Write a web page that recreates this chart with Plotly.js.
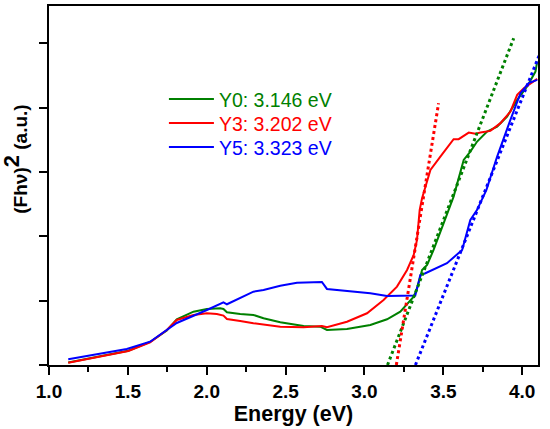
<!DOCTYPE html>
<html>
<head>
<meta charset="utf-8">
<script src="https://cdn.plot.ly/plotly-3.0.1.min.js"></script>
<style>html,body{margin:0;padding:0;background:#fff;}#chart{width:550px;height:429px;}</style>
</head>
<body>
<div id="chart"></div>
<script>
// Energy (eV) and (Fhv)^2 (a.u.) values
const y0Energy = [1.122,1.503,1.641,1.747,1.810,1.916,2.001,2.085,2.106,2.128,2.212,2.296,2.360,2.466,2.614,2.720,2.762,2.889,3.037,3.143,3.227,3.312,3.337,3.365,3.397,3.438,3.502,3.565,3.629,3.671,3.714,3.777,3.841,3.904,3.968,4.031,4.084,4.095];
const y0Values = [0.039,0.221,0.358,0.537,0.711,0.829,0.871,0.882,0.871,0.820,0.793,0.778,0.726,0.664,0.607,0.596,0.544,0.560,0.622,0.711,0.829,1.062,1.218,1.477,1.555,1.788,2.204,2.617,3.188,3.317,3.473,3.628,3.706,3.862,4.121,4.328,4.561,4.717];

const y3Energy = [1.122,1.503,1.641,1.747,1.810,1.916,2.001,2.064,2.106,2.128,2.212,2.296,2.466,2.614,2.730,2.762,2.889,3.016,3.121,3.206,3.270,3.312,3.333,3.350,3.365,3.418,3.481,3.523,3.565,3.597,3.661,3.703,3.735,3.798,3.862,3.925,3.968,4.010,4.052,4.095];
const y3Values = [0.036,0.218,0.353,0.544,0.700,0.778,0.804,0.793,0.767,0.715,0.684,0.649,0.596,0.586,0.607,0.586,0.673,0.804,1.011,1.218,1.477,1.711,1.944,2.411,2.592,3.033,3.240,3.370,3.510,3.510,3.613,3.593,3.613,3.639,3.759,3.939,4.199,4.303,4.381,4.448];

const y5Energy = [1.122,1.493,1.641,1.810,2.001,2.106,2.128,2.212,2.296,2.360,2.466,2.572,2.730,2.762,2.889,3.037,3.143,3.322,3.354,3.386,3.523,3.619,3.671,3.714,3.773,3.841,3.925,3.989,4.041,4.095];
const y5Values = [0.089,0.249,0.362,0.653,0.855,0.975,0.944,1.047,1.140,1.166,1.233,1.280,1.291,1.182,1.156,1.115,1.073,1.081,1.400,1.426,1.582,1.788,2.255,2.411,2.722,3.240,3.810,4.225,4.381,4.432];

// Linear (Tauc) fit lines: [start, end]
const y0FitEnergy = [3.146, 3.946];
const y0FitValues = [0, 5.08];
const y3FitEnergy = [3.202, 3.470];
const y3FitValues = [0, 4.07];
const y5FitEnergy = [3.323, 4.143];
const y5FitValues = [0, 5.03];

const seriesNames = ['Y0: 3.146 eV', 'Y3: 3.202 eV', 'Y5: 3.323 eV'];
const seriesColors = ['#008000', '#ff0000', '#0000ff'];

const xTickVals = [1.0, 1.5, 2.0, 2.5, 3.0, 3.5, 4.0];

const FONT = 'Arial, "Liberation Sans", Helvetica, sans-serif';

const solid = [[y0Energy, y0Values], [y3Energy, y3Values], [y5Energy, y5Values]];
const fits = [[y0FitEnergy, y0FitValues], [y3FitEnergy, y3FitValues], [y5FitEnergy, y5FitValues]];
const legendIds = ['legend', 'legend2', 'legend3'];
const legendY = [0.740, 0.673, 0.606];

const traces = [];
solid.forEach((s, i) => {
  traces.push({
    x: s[0], y: s[1], type: 'scatter', mode: 'lines',
    name: '<span style="color:' + seriesColors[i] + '">' + seriesNames[i] + '</span>',
    legend: legendIds[i],
    line: {color: seriesColors[i], width: 2},
    hoverinfo: 'skip'
  });
});
fits.forEach((s, i) => {
  traces.push({
    x: s[0], y: s[1], type: 'scatter', mode: 'lines',
    showlegend: false,
    line: {color: seriesColors[i], width: 3, dash: 'dot'},
    hoverinfo: 'skip'
  });
});

function legendCfg(y) {
  return {
    x: 0.235, y: y, xanchor: 'left', yanchor: 'middle',
    bgcolor: 'rgba(0,0,0,0)', borderwidth: 0,
    font: {family: FONT, size: 19.5, color: '#000'},
    itemwidth: 45
  };
}

const layout = {
  width: 550, height: 429,
  margin: {l: 49, r: 12, t: 6, b: 64},
  paper_bgcolor: '#ffffff', plot_bgcolor: '#ffffff',
  showlegend: true,
  legend: legendCfg(legendY[0]),
  legend2: legendCfg(legendY[1]),
  legend3: legendCfg(legendY[2]),
  xaxis: {
    range: [1.0, 4.1],
    tickvals: xTickVals, tickformat: '.1f',
    ticks: 'outside', ticklen: 8, tickwidth: 2, tickcolor: '#000',
    minor: {dtick: 0.25, ticks: 'outside', ticklen: 5, tickwidth: 2, tickcolor: '#000'},
    showline: true, linewidth: 2, linecolor: '#000', mirror: true,
    showgrid: false, zeroline: false,
    tickfont: {family: FONT, size: 19, color: '#000', weight: 'bold'},
    title: {text: 'Energy (eV)', font: {family: FONT, size: 21.5, color: '#000', weight: 'bold'}, standoff: 4}
  },
  yaxis: {
    range: [0, 5.58], dtick: 1, tick0: 0,
    showticklabels: false,
    ticks: 'outside', ticklen: 8, tickwidth: 2, tickcolor: '#000',
    showline: true, linewidth: 2, linecolor: '#000', mirror: true,
    showgrid: false, zeroline: false
  },
  annotations: [{
    text: '<b>(Fhν)<sup><span style="font-size:22px">2</span></sup> (a.u.)</b>',
    xref: 'paper', yref: 'paper', x: -0.070, y: 0.574,
    xanchor: 'center', yanchor: 'middle', textangle: -90, showarrow: false,
    font: {family: FONT, size: 19, color: '#000'}
  }]
};

Plotly.newPlot('chart', traces, layout, {displayModeBar: false, staticPlot: true});
</script>
</body>
</html>
